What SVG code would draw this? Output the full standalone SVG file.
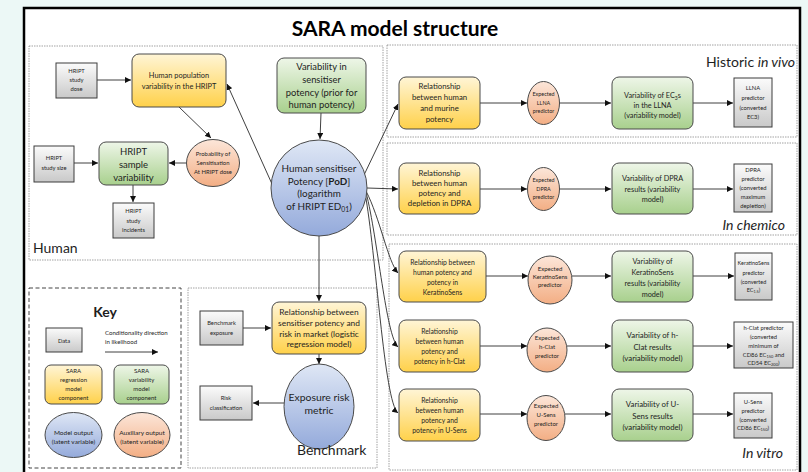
<svg xmlns="http://www.w3.org/2000/svg" width="808" height="472" viewBox="0 0 808 472">
  <defs>
    <linearGradient id="gYellow" x1="0" y1="0" x2="0" y2="1">
      <stop offset="0" stop-color="#fff5d6"/>
      <stop offset="1" stop-color="#ffd14a"/>
    </linearGradient>
    <linearGradient id="gGreen" x1="0" y1="0" x2="0" y2="1">
      <stop offset="0" stop-color="#eef6e8"/>
      <stop offset="1" stop-color="#a8d08d"/>
    </linearGradient>
    <linearGradient id="gGrey" x1="0" y1="0" x2="0" y2="1">
      <stop offset="0" stop-color="#fbfbfb"/>
      <stop offset="1" stop-color="#c9c9c9"/>
    </linearGradient>
    <linearGradient id="gOrange" x1="0" y1="0" x2="0" y2="1">
      <stop offset="0" stop-color="#fce6d9"/>
      <stop offset="1" stop-color="#f3ae84"/>
    </linearGradient>
    <linearGradient id="gBlue" x1="0" y1="0" x2="0" y2="1">
      <stop offset="0" stop-color="#dfe7f5"/>
      <stop offset="1" stop-color="#94aadb"/>
    </linearGradient>
    <marker id="arrow" markerUnits="userSpaceOnUse" viewBox="0 0 6 6" refX="6" refY="3" markerWidth="6" markerHeight="6" orient="auto">
      <path d="M0,0 L6,3 L0,6 z" fill="#111"/>
    </marker>
  </defs>
  <style>
    text { font-family: Lato, "Liberation Sans", Arial, sans-serif; fill: #1e1e1e; }
    .t { text-anchor: middle; }
    .data { fill: url(#gGrey); stroke: #3c3c3c; stroke-width: 1; }
    .reg { fill: url(#gYellow); stroke: #4a4a4a; stroke-width: 1; }
    .var { fill: url(#gGreen); stroke: #4a4a4a; stroke-width: 1; }
    .aux { fill: url(#gOrange); stroke: #4a4a4a; stroke-width: 1; }
    .out { fill: url(#gBlue); stroke: #4a4a4a; stroke-width: 1; }
    .panel { fill: none; stroke: #8c8c8c; stroke-width: 0.8; stroke-dasharray: 1.5 1; }
    .keypanel { fill: none; stroke: #444; stroke-width: 1; stroke-dasharray: 4 2.5; }
    .edge { fill: none; stroke: #2a2a2a; stroke-width: 0.9; marker-end: url(#arrow); }
    .s6 { font-size: 5.8px; }
    .s5 { font-size: 5.4px; }
    .rel { font-size: 7.8px; }
    .rel2 { font-size: 6.8px; }
    .vg { font-size: 7.3px; }
    .lbl { font-size: 14px; }
  </style>

  <!-- page background and frame -->
  <rect x="0" y="0" width="808" height="472" fill="#ecf8f6"/>
  <rect x="24" y="8" width="776" height="470" fill="#ffffff" stroke="#000" stroke-width="2.5"/>

  <text x="395" y="36" class="t" style="font-size:21px;font-weight:bold;fill:#000">SARA model structure</text>

  <!-- panels -->
  <g id="panels">
    <rect class="panel" x="29" y="46" width="354" height="214"/>
    <rect class="panel" x="387" y="45" width="410" height="92"/>
    <rect class="panel" x="387" y="143" width="410" height="92"/>
    <rect class="panel" x="389" y="244" width="408" height="226"/>
    <rect class="keypanel" x="29" y="288" width="152" height="180"/>
    <rect class="panel" x="188" y="288" width="189" height="180"/>
  </g>

  <!-- connectors -->
  <g id="connectors">
    <line class="edge" x1="97" y1="80" x2="131" y2="80"/>
    <line class="edge" x1="179" y1="107" x2="211" y2="138"/>
    <line class="edge" x1="186" y1="163" x2="169" y2="163"/>
    <line class="edge" x1="74" y1="163" x2="98" y2="163"/>
    <line class="edge" x1="133" y1="185" x2="133" y2="202"/>
    <line class="edge" x1="321" y1="113" x2="320" y2="139"/>
    <line class="edge" x1="272" y1="184" x2="227" y2="84"/>
    <line class="edge" x1="319" y1="236" x2="319" y2="301"/>
    <line class="edge" x1="364" y1="175" x2="398" y2="104"/>
    <line class="edge" x1="367" y1="188" x2="398" y2="189"/>
    <path class="edge" d="M366,191 C380,218 388,262 398,273"/>
    <path class="edge" d="M366,192 C378,240 386,336 398,347"/>
    <path class="edge" d="M365,193 C376,252 384,402 398,413"/>
    <!-- benchmark -->
    <line class="edge" x1="243" y1="328" x2="271" y2="328"/>
    <line class="edge" x1="319" y1="354" x2="319" y2="364"/>
    <line class="edge" x1="284" y1="403" x2="253" y2="403"/>
    <!-- LLNA row -->
    <line class="edge" x1="480" y1="103" x2="527" y2="103"/>
    <line class="edge" x1="559" y1="103" x2="611" y2="103"/>
    <line class="edge" x1="693" y1="103" x2="733" y2="103"/>
    <!-- DPRA row -->
    <line class="edge" x1="480" y1="189" x2="527" y2="189"/>
    <line class="edge" x1="559" y1="189" x2="611" y2="189"/>
    <line class="edge" x1="693" y1="189" x2="733" y2="189"/>
    <!-- KeratinoSens row -->
    <line class="edge" x1="486" y1="276" x2="528" y2="276"/>
    <line class="edge" x1="572" y1="276" x2="611" y2="276"/>
    <line class="edge" x1="693" y1="276" x2="734" y2="276"/>
    <!-- h-Clat row -->
    <line class="edge" x1="480" y1="346" x2="527" y2="346"/>
    <line class="edge" x1="567" y1="346" x2="611" y2="346"/>
    <line class="edge" x1="693" y1="346" x2="733" y2="346"/>
    <!-- U-Sens row -->
    <line class="edge" x1="480" y1="414" x2="527" y2="414"/>
    <line class="edge" x1="565" y1="414" x2="611" y2="414"/>
    <line class="edge" x1="693" y1="414" x2="733" y2="414"/>
    <!-- key -->
    <line class="edge" x1="105" y1="352" x2="158" y2="352"/>
  </g>

  <!-- Human panel -->
  <g id="hript-dose">
    <rect class="data" x="56" y="63" width="41" height="35"/>
    <text class="t s6"><tspan x="76.5" y="73">HRIPT</tspan><tspan x="76.5" y="82">study</tspan><tspan x="76.5" y="91">dose</tspan></text>
  </g>
  <g id="population-variability">
    <rect class="reg" x="132" y="54" width="94" height="53" rx="7"/>
    <text class="t" style="font-size:7.4px"><tspan x="179" y="78">Human population</tspan><tspan x="179" y="89">variability in the HRIPT</tspan></text>
  </g>
  <g id="prior-variability">
    <rect class="var" x="277" y="58" width="89" height="55" rx="7"/>
    <text class="t" style="font-size:9.4px"><tspan x="321.5" y="70">Variability in</tspan><tspan x="321.5" y="83">sensitiser</tspan><tspan x="321.5" y="95.5">potency (prior for</tspan><tspan x="321.5" y="108">human potency)</tspan></text>
  </g>
  <g id="hript-size">
    <rect class="data" x="34" y="146" width="40" height="36"/>
    <text class="t s6"><tspan x="54" y="160">HRIPT</tspan><tspan x="54" y="169.5">study size</tspan></text>
  </g>
  <g id="sample-variability">
    <rect class="var" x="99" y="142" width="69" height="43" rx="7"/>
    <text class="t" style="font-size:9.5px"><tspan x="133.5" y="154.5">HRIPT</tspan><tspan x="133.5" y="167.5">sample</tspan><tspan x="133.5" y="180.5">variability</tspan></text>
  </g>
  <g id="probability-sensitisation">
    <ellipse class="aux" cx="213" cy="163" rx="26.5" ry="23.5"/>
    <text class="t" style="font-size:5.9px"><tspan x="213" y="156">Probability of</tspan><tspan x="213" y="165">Sensitisation</tspan><tspan x="213" y="174">At HRIPT dose</tspan></text>
  </g>
  <g id="hript-incidents">
    <rect class="data" x="113" y="203" width="41" height="35"/>
    <text class="t s6"><tspan x="133.5" y="213">HRIPT</tspan><tspan x="133.5" y="222.5">study</tspan><tspan x="133.5" y="232">incidents</tspan></text>
  </g>
  <g id="human-potency">
    <circle class="out" cx="319" cy="188" r="48"/>
    <text class="t" style="font-size:9.9px"><tspan x="319" y="172">Human sensitiser</tspan><tspan x="319" y="184.5">Potency [<tspan font-weight="bold">PoD</tspan>]</tspan><tspan x="319" y="197">(logarithm</tspan><tspan x="319" y="209.5">of HRIPT ED<tspan font-size="6.8px" dy="2">01</tspan><tspan dy="-2">)</tspan></tspan></text>
  </g>

  <!-- Benchmark panel -->
  <g id="benchmark-exposure">
    <rect class="data" x="200" y="311" width="43" height="34"/>
    <text class="t s6"><tspan x="221.5" y="325">Benchmark</tspan><tspan x="221.5" y="335">exposure</tspan></text>
  </g>
  <g id="risk-relationship">
    <rect class="reg" x="272" y="302" width="94" height="52" rx="7"/>
    <text class="t" style="font-size:8.4px"><tspan x="319" y="315">Relationship between</tspan><tspan x="319" y="326">sensitiser potency and</tspan><tspan x="319" y="336.5">risk in market (logistic</tspan><tspan x="319" y="347">regression model)</tspan></text>
  </g>
  <g id="exposure-risk-metric">
    <ellipse class="out" cx="319" cy="406.5" rx="35" ry="42.5"/>
    <text class="t" style="font-size:10.4px"><tspan x="319" y="401">Exposure risk</tspan><tspan x="319" y="414">metric</tspan></text>
  </g>
  <g id="risk-classification">
    <rect class="data" x="200" y="386" width="52" height="34"/>
    <text class="t s6"><tspan x="226" y="400">Risk</tspan><tspan x="226" y="410">classification</tspan></text>
  </g>

  <!-- Key -->
  <g id="key">
    <text x="105" y="317" class="t" style="font-size:14px;font-weight:bold">Key</text>
    <rect class="data" x="46" y="328" width="36" height="24"/>
    <text x="64" y="342.5" class="t s6">Data</text>
    <text style="font-size:6.1px"><tspan x="105" y="335">Conditionality direction</tspan><tspan x="105" y="344">in likelihood</tspan></text>
    <rect class="reg" x="45" y="365" width="57" height="39" rx="6"/>
    <text class="t" style="font-size:6px"><tspan x="73.5" y="372.5">SARA</tspan><tspan x="73.5" y="381.5">regression</tspan><tspan x="73.5" y="390.5">model</tspan><tspan x="73.5" y="399.5">component</tspan></text>
    <rect class="var" x="114" y="365" width="55" height="39" rx="6"/>
    <text class="t" style="font-size:6px"><tspan x="141.5" y="372.5">SARA</tspan><tspan x="141.5" y="381.5">variability</tspan><tspan x="141.5" y="390.5">model</tspan><tspan x="141.5" y="399.5">component</tspan></text>
    <ellipse class="out" cx="73.5" cy="435" rx="28.5" ry="22.5"/>
    <text class="t" style="font-size:6.5px"><tspan x="73.5" y="435">Model output</tspan><tspan x="73.5" y="444">(latent variable)</tspan></text>
    <ellipse class="aux" cx="142" cy="435" rx="28" ry="22.5"/>
    <text class="t" style="font-size:6.5px"><tspan x="142" y="435">Auxiliary output</tspan><tspan x="142" y="444">(latent variable)</tspan></text>
  </g>

  <!-- LLNA row -->
  <g id="llna-relationship">
    <rect class="reg" x="399" y="77" width="81" height="52" rx="7"/>
    <text class="t rel"><tspan x="439.5" y="89">Relationship</tspan><tspan x="439.5" y="100">between human</tspan><tspan x="439.5" y="111">and murine</tspan><tspan x="439.5" y="122">potency</tspan></text>
  </g>
  <g id="llna-expected">
    <ellipse class="aux" cx="543.5" cy="103" rx="16" ry="21.5"/>
    <text class="t s5"><tspan x="543.5" y="96">Expected</tspan><tspan x="543.5" y="104.5">LLNA</tspan><tspan x="543.5" y="113">predictor</tspan></text>
  </g>
  <g id="llna-variability">
    <rect class="var" x="612" y="77" width="81" height="52" rx="7"/>
    <text class="t vg"><tspan x="652.5" y="98">Variability of EC<tspan font-size="5px" dy="1.5">3</tspan><tspan dy="-1.5">s</tspan></tspan><tspan x="652.5" y="108">in the LLNA</tspan><tspan x="652.5" y="118">(variability model)</tspan></text>
  </g>
  <g id="llna-predictor">
    <rect class="data" x="734" y="78" width="38" height="49"/>
    <text class="t s6"><tspan x="753" y="90">LLNA</tspan><tspan x="753" y="100">predictor</tspan><tspan x="753" y="110">(converted</tspan><tspan x="753" y="119">EC3)</tspan></text>
  </g>

  <!-- DPRA row -->
  <g id="dpra-relationship">
    <rect class="reg" x="399" y="163" width="81" height="51" rx="7"/>
    <text class="t rel"><tspan x="439.5" y="176">Relationship</tspan><tspan x="439.5" y="186">between human</tspan><tspan x="439.5" y="196">potency and</tspan><tspan x="439.5" y="206">depletion in DPRA</tspan></text>
  </g>
  <g id="dpra-expected">
    <ellipse class="aux" cx="543.5" cy="189" rx="16" ry="21.5"/>
    <text class="t s5"><tspan x="543.5" y="182">Expected</tspan><tspan x="543.5" y="190.5">DPRA</tspan><tspan x="543.5" y="199">predictor</tspan></text>
  </g>
  <g id="dpra-variability">
    <rect class="var" x="612" y="163" width="81" height="51" rx="7"/>
    <text class="t vg"><tspan x="652.5" y="181">Variability of DPRA</tspan><tspan x="652.5" y="191.5">results (variability</tspan><tspan x="652.5" y="202">model)</tspan></text>
  </g>
  <g id="dpra-predictor">
    <rect class="data" x="734" y="164" width="38" height="48"/>
    <text class="t s6"><tspan x="753" y="172">DPRA</tspan><tspan x="753" y="181">predictor</tspan><tspan x="753" y="190">(converted</tspan><tspan x="753" y="199">maximum</tspan><tspan x="753" y="208">depletion)</tspan></text>
  </g>

  <!-- KeratinoSens row -->
  <g id="ks-relationship">
    <rect class="reg" x="399" y="251" width="87" height="51" rx="7"/>
    <text class="t rel2"><tspan x="442.5" y="265">Relationship between</tspan><tspan x="442.5" y="275">human potency and</tspan><tspan x="442.5" y="285">potency in</tspan><tspan x="442.5" y="295">KeratinoSens</tspan></text>
  </g>
  <g id="ks-expected">
    <ellipse class="aux" cx="550" cy="280" rx="22" ry="24"/>
    <text class="t" style="font-size:6px"><tspan x="550" y="271">Expected</tspan><tspan x="550" y="279">KeratinoSens</tspan><tspan x="550" y="287">predictor</tspan></text>
  </g>
  <g id="ks-variability">
    <rect class="var" x="612" y="251" width="81" height="51" rx="7"/>
    <text class="t vg"><tspan x="652.5" y="264">Variability of</tspan><tspan x="652.5" y="275">KeratinoSens</tspan><tspan x="652.5" y="286">results (variability</tspan><tspan x="652.5" y="297">model)</tspan></text>
  </g>
  <g id="ks-predictor">
    <rect class="data" x="735" y="253" width="37" height="47"/>
    <text class="t" style="font-size:5.5px"><tspan x="753.5" y="265">KeratinoSens</tspan><tspan x="753.5" y="275">predictor</tspan><tspan x="753.5" y="283.5">(converted</tspan><tspan x="753.5" y="292">EC<tspan font-size="3.8px" dy="1.2">1.5</tspan><tspan dy="-1.2">)</tspan></tspan></text>
  </g>

  <!-- h-Clat row -->
  <g id="hclat-relationship">
    <rect class="reg" x="399" y="320" width="81" height="52" rx="7"/>
    <text class="t rel2"><tspan x="439.5" y="334">Relationship</tspan><tspan x="439.5" y="344">between human</tspan><tspan x="439.5" y="354">potency and</tspan><tspan x="439.5" y="364">potency in h-Clat</tspan></text>
  </g>
  <g id="hclat-expected">
    <ellipse class="aux" cx="547" cy="350" rx="20" ry="22"/>
    <text class="t" style="font-size:6px"><tspan x="547" y="340">Expected</tspan><tspan x="547" y="349">h-Clat</tspan><tspan x="547" y="358">predictor</tspan></text>
  </g>
  <g id="hclat-variability">
    <rect class="var" x="612" y="320" width="81" height="52" rx="7"/>
    <text class="t" style="font-size:7.8px"><tspan x="652.5" y="338">Variability of h-</tspan><tspan x="652.5" y="349.5">Clat results</tspan><tspan x="652.5" y="361">(variability model)</tspan></text>
  </g>
  <g id="hclat-predictor">
    <rect class="data" x="734" y="322" width="59" height="46"/>
    <text class="t s6"><tspan x="763.5" y="330">h-Clat predictor</tspan><tspan x="763.5" y="339">(converted</tspan><tspan x="763.5" y="348">minimum of</tspan><tspan x="763.5" y="356.5">CD86 EC<tspan font-size="4px" dy="1.2">150</tspan><tspan dy="-1.2"> and</tspan></tspan><tspan x="763.5" y="365">CD54 EC<tspan font-size="4px" dy="1.2">200</tspan><tspan dy="-1.2">)</tspan></tspan></text>
  </g>

  <!-- U-Sens row -->
  <g id="usens-relationship">
    <rect class="reg" x="399" y="389" width="81" height="52" rx="7"/>
    <text class="t rel2"><tspan x="439.5" y="403">Relationship</tspan><tspan x="439.5" y="413">between human</tspan><tspan x="439.5" y="423">potency and</tspan><tspan x="439.5" y="433">potency in U-Sens</tspan></text>
  </g>
  <g id="usens-expected">
    <ellipse class="aux" cx="546" cy="418" rx="19" ry="22.5"/>
    <text class="t" style="font-size:6px"><tspan x="546" y="408">Expected</tspan><tspan x="546" y="417">U-Sens</tspan><tspan x="546" y="426">predictor</tspan></text>
  </g>
  <g id="usens-variability">
    <rect class="var" x="612" y="389" width="81" height="52" rx="7"/>
    <text class="t" style="font-size:7.8px"><tspan x="652.5" y="407">Variability of U-</tspan><tspan x="652.5" y="418.5">Sens results</tspan><tspan x="652.5" y="430">(variability model)</tspan></text>
  </g>
  <g id="usens-predictor">
    <rect class="data" x="734" y="393" width="38" height="45"/>
    <text class="t s6"><tspan x="753" y="404">U-Sens</tspan><tspan x="753" y="413">predictor</tspan><tspan x="753" y="421.5">(converted</tspan><tspan x="753" y="430">CD86 EC<tspan font-size="4px" dy="1.2">150</tspan><tspan dy="-1.2">)</tspan></tspan></text>
  </g>

  <!-- panel captions, drawn over the nodes -->
  <g id="panel-labels">
    <text x="33" y="253" class="lbl">Human</text>
    <text x="795" y="67" class="lbl" text-anchor="end">Historic <tspan font-style="italic">in vivo</tspan></text>
    <text x="785" y="230" class="lbl" text-anchor="end" font-style="italic">In chemico</text>
    <text x="783" y="458" class="lbl" text-anchor="end" font-style="italic">In vitro</text>
    <text x="297" y="455" class="lbl">Benchmark</text>
  </g>
</svg>
